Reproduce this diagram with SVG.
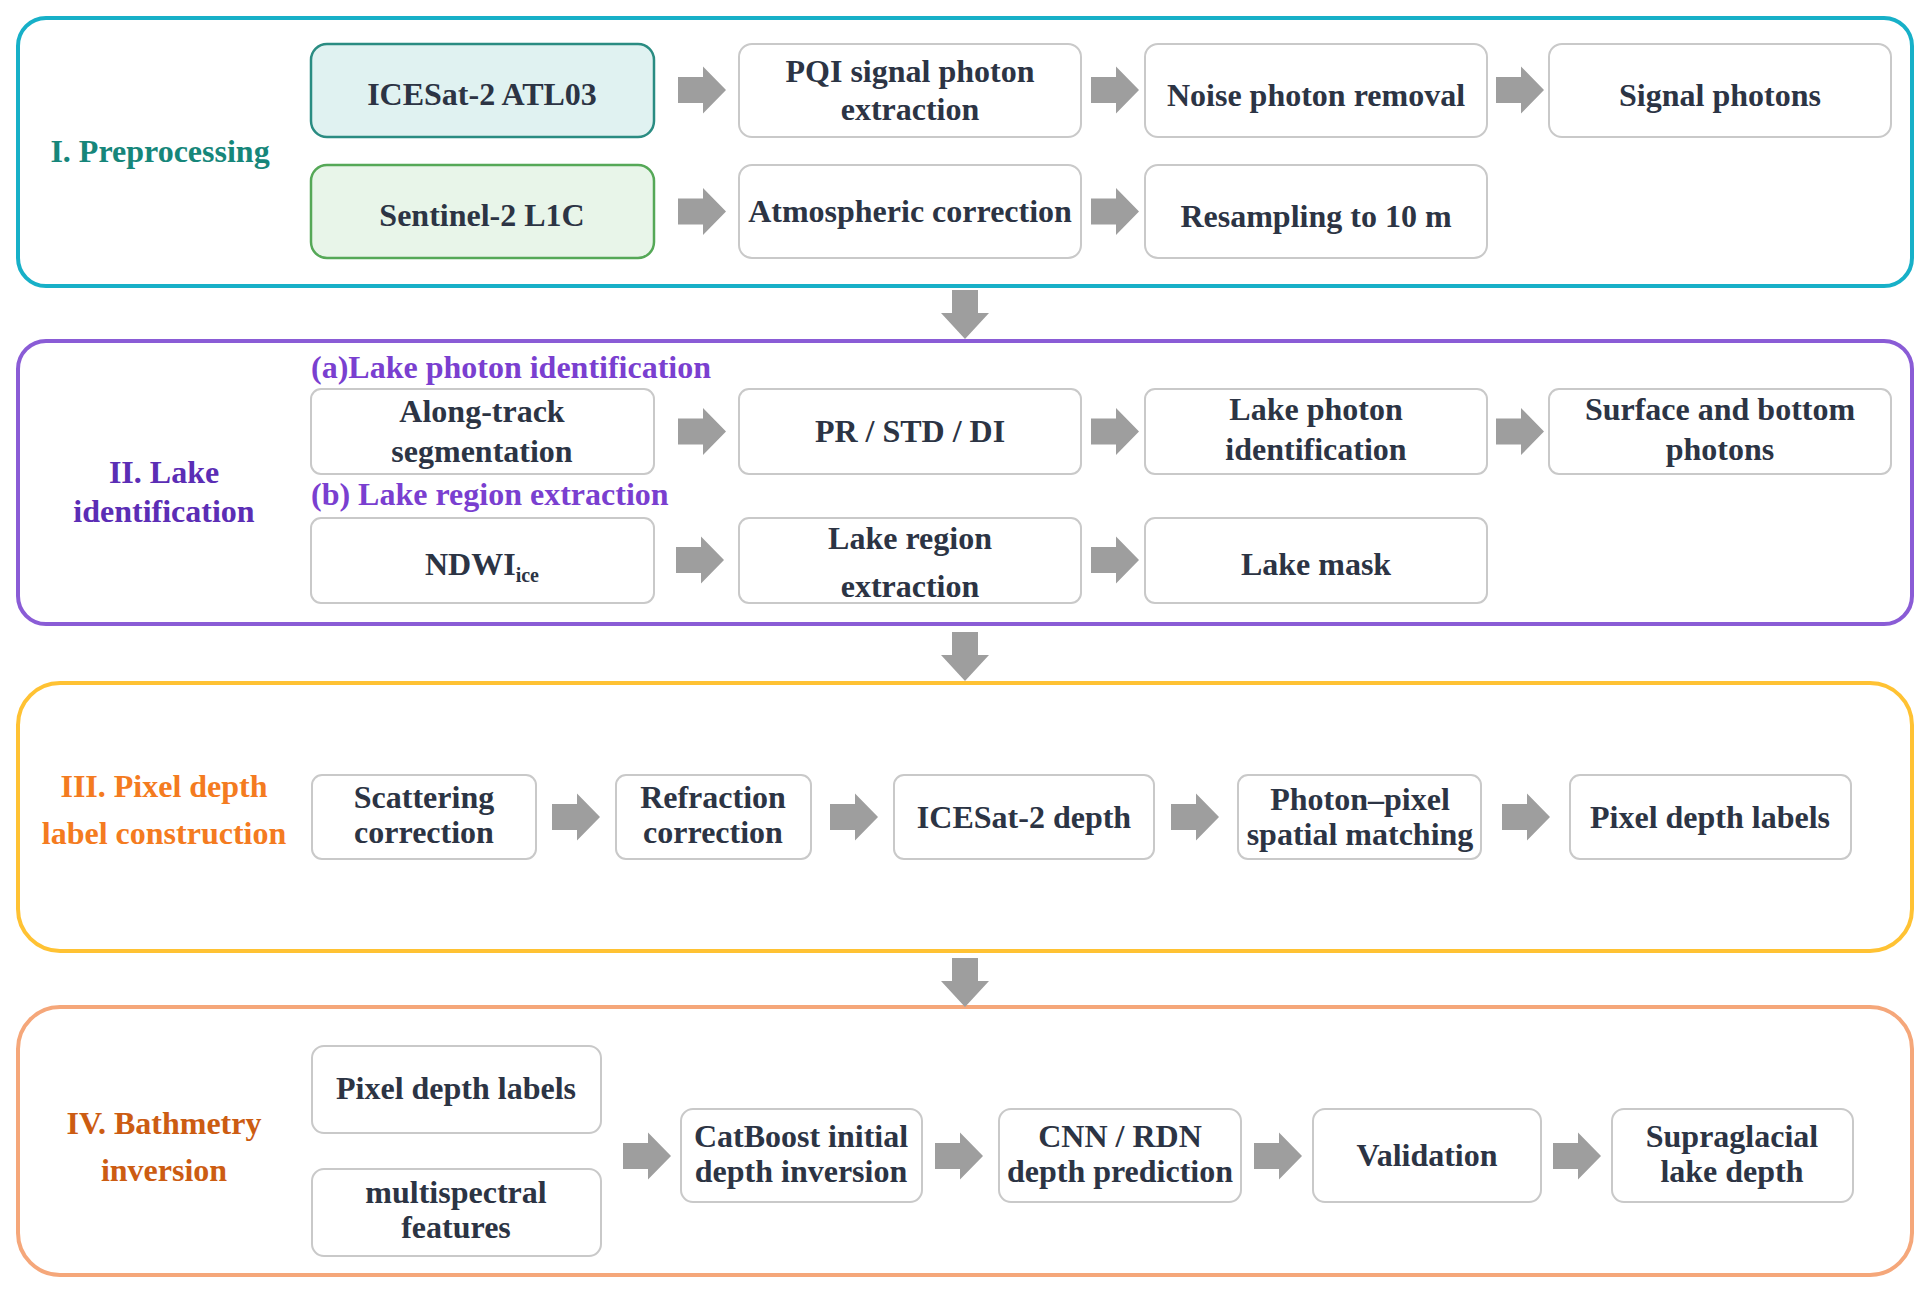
<svg xmlns="http://www.w3.org/2000/svg" xmlns:xlink="http://www.w3.org/1999/xlink" width="1931" height="1292" viewBox="0 0 1931 1292">
<style>
text{font-family:"Liberation Serif","Times New Roman",serif;font-weight:bold;font-size:32px;text-anchor:middle;fill:#2c3444}
.box{fill:#ffffff;stroke:#c9c9c9;stroke-width:2}
.panel{fill:#ffffff;stroke-width:4}
.arr{fill:#9e9e9e}
.lbl1{fill:#16867a}
.lbl2{fill:#5b2db5}
.sub2{fill:#7a3fd0;text-anchor:start}
.lbl3{fill:#f47b20}
.lbl4{fill:#cc5c12}
</style>
<defs>
<path id="ha" d="M0,-13 H25 V-23.5 L48,0 L25,23.5 V13 H0 Z"/>
<path id="va" d="M-13,0 V23 H-24 L0,49 L24,23 H13 V0 Z"/>
</defs>
<rect width="1931" height="1292" fill="#ffffff"/>

<g id="panels">
<rect id="panel1" class="panel" x="18" y="18" width="1894" height="268" rx="28" stroke="#17b0c8"/>
<rect id="panel2" class="panel" x="18" y="341" width="1894" height="283" rx="28" stroke="#8a5cd6"/>
<rect id="panel3" class="panel" x="18" y="683" width="1894" height="268" rx="42" stroke="#ffc233"/>
<rect id="panel4" class="panel" x="18" y="1007" width="1894" height="268" rx="42" stroke="#f5a77a"/>
</g>

<g id="panel-labels">
<text class="lbl1" x="160" y="162">I. Preprocessing</text>
<text class="lbl2" x="164" y="483">II. Lake</text>
<text class="lbl2" x="164" y="522">identification</text>
<text class="sub2" x="311" y="378">(a)Lake photon identification</text>
<text class="sub2" x="311" y="505">(b) Lake region extraction</text>
<text class="lbl3" x="164" y="797">III. Pixel depth</text>
<text class="lbl3" x="164" y="844">label construction</text>
<text class="lbl4" x="164" y="1134">IV. Bathmetry</text>
<text class="lbl4" x="164" y="1181">inversion</text>
</g>

<g id="connectors" class="arr">
<use xlink:href="#ha" href="#ha" transform="translate(678,90)"/>
<use xlink:href="#ha" href="#ha" transform="translate(1091,90)"/>
<use xlink:href="#ha" href="#ha" transform="translate(1496,90)"/>
<use xlink:href="#ha" href="#ha" transform="translate(678,211.5)"/>
<use xlink:href="#ha" href="#ha" transform="translate(1091,211.5)"/>
<use xlink:href="#ha" href="#ha" transform="translate(678,431.5)"/>
<use xlink:href="#ha" href="#ha" transform="translate(1091,431.5)"/>
<use xlink:href="#ha" href="#ha" transform="translate(1496,431.5)"/>
<use xlink:href="#ha" href="#ha" transform="translate(676,560)"/>
<use xlink:href="#ha" href="#ha" transform="translate(1091,560)"/>
<use xlink:href="#ha" href="#ha" transform="translate(552,817)"/>
<use xlink:href="#ha" href="#ha" transform="translate(830,817)"/>
<use xlink:href="#ha" href="#ha" transform="translate(1171,817)"/>
<use xlink:href="#ha" href="#ha" transform="translate(1502,817)"/>
<use xlink:href="#ha" href="#ha" transform="translate(623,1156)"/>
<use xlink:href="#ha" href="#ha" transform="translate(935,1156)"/>
<use xlink:href="#ha" href="#ha" transform="translate(1254,1156)"/>
<use xlink:href="#ha" href="#ha" transform="translate(1553,1156)"/>
<use xlink:href="#va" href="#va" transform="translate(965,290)"/>
<use xlink:href="#va" href="#va" transform="translate(965,632)"/>
<use xlink:href="#va" href="#va" transform="translate(965,958)"/>
</g>

<g id="n-icesat"><rect x="311" y="44" width="343" height="93" rx="16" fill="#e0f2f1" stroke="#2a8c82" stroke-width="2.5"/><text x="482" y="105">ICESat-2 ATL03</text></g>
<g id="n-pqi"><rect class="box" x="739" y="44" width="342" height="93" rx="13"/><text x="910" y="82">PQI signal photon</text><text x="910" y="120">extraction</text></g>
<g id="n-noise"><rect class="box" x="1145" y="44" width="342" height="93" rx="13"/><text x="1316" y="106">Noise photon removal</text></g>
<g id="n-signal"><rect class="box" x="1549" y="44" width="342" height="93" rx="13"/><text x="1720" y="106">Signal photons</text></g>
<g id="n-sentinel"><rect x="311" y="165" width="343" height="93" rx="16" fill="#e8f5e9" stroke="#55a857" stroke-width="2.5"/><text x="482" y="226">Sentinel-2 L1C</text></g>
<g id="n-atmos"><rect class="box" x="739" y="165" width="342" height="93" rx="13"/><text x="910" y="222">Atmospheric correction</text></g>
<g id="n-resample"><rect class="box" x="1145" y="165" width="342" height="93" rx="13"/><text x="1316" y="227">Resampling to 10 m</text></g>

<g id="n-along"><rect class="box" x="311" y="389" width="343" height="85" rx="10"/><text x="482" y="422">Along-track</text><text x="482" y="462">segmentation</text></g>
<g id="n-prstd"><rect class="box" x="739" y="389" width="342" height="85" rx="10"/><text x="910" y="442">PR / STD / DI</text></g>
<g id="n-lakephoton"><rect class="box" x="1145" y="389" width="342" height="85" rx="10"/><text x="1316" y="420">Lake photon</text><text x="1316" y="460">identification</text></g>
<g id="n-surface"><rect class="box" x="1549" y="389" width="342" height="85" rx="10"/><text x="1720" y="420">Surface and bottom</text><text x="1720" y="460">photons</text></g>
<g id="n-ndwi"><rect class="box" x="311" y="518" width="343" height="85" rx="10"/><text x="482" y="575">NDWI<tspan font-size="20" dy="7">ice</tspan></text></g>
<g id="n-lakeregion"><rect class="box" x="739" y="518" width="342" height="85" rx="10"/><text x="910" y="549">Lake region</text><text x="910" y="597">extraction</text></g>
<g id="n-lakemask"><rect class="box" x="1145" y="518" width="342" height="85" rx="10"/><text x="1316" y="575">Lake mask</text></g>

<g id="n-scatter"><rect class="box" x="312" y="775" width="224" height="84" rx="10"/><text x="424" y="808">Scattering</text><text x="424" y="843">correction</text></g>
<g id="n-refract"><rect class="box" x="616" y="775" width="195" height="84" rx="10"/><text x="713" y="808">Refraction</text><text x="713" y="843">correction</text></g>
<g id="n-icedepth"><rect class="box" x="894" y="775" width="260" height="84" rx="10"/><text x="1024" y="828">ICESat-2 depth</text></g>
<g id="n-match"><rect class="box" x="1238" y="775" width="243" height="84" rx="10"/><text x="1360" y="810">Photon–pixel</text><text x="1360" y="845">spatial matching</text></g>
<g id="n-pixlabels3"><rect class="box" x="1570" y="775" width="281" height="84" rx="10"/><text x="1710" y="828">Pixel depth labels</text></g>

<g id="n-pixlabels4"><rect class="box" x="312" y="1046" width="289" height="87" rx="12"/><text x="456" y="1099">Pixel depth labels</text></g>
<g id="n-multispec"><rect class="box" x="312" y="1169" width="289" height="87" rx="12"/><text x="456" y="1203">multispectral</text><text x="456" y="1238">features</text></g>
<g id="n-catboost"><rect class="box" x="681" y="1109" width="241" height="93" rx="12"/><text x="801" y="1147">CatBoost initial</text><text x="801" y="1182">depth inversion</text></g>
<g id="n-cnn"><rect class="box" x="999" y="1109" width="242" height="93" rx="12"/><text x="1120" y="1147">CNN / RDN</text><text x="1120" y="1182">depth prediction</text></g>
<g id="n-valid"><rect class="box" x="1313" y="1109" width="228" height="93" rx="12"/><text x="1427" y="1166">Validation</text></g>
<g id="n-supra"><rect class="box" x="1612" y="1109" width="241" height="93" rx="12"/><text x="1732" y="1147">Supraglacial</text><text x="1732" y="1182">lake depth</text></g>
</svg>
